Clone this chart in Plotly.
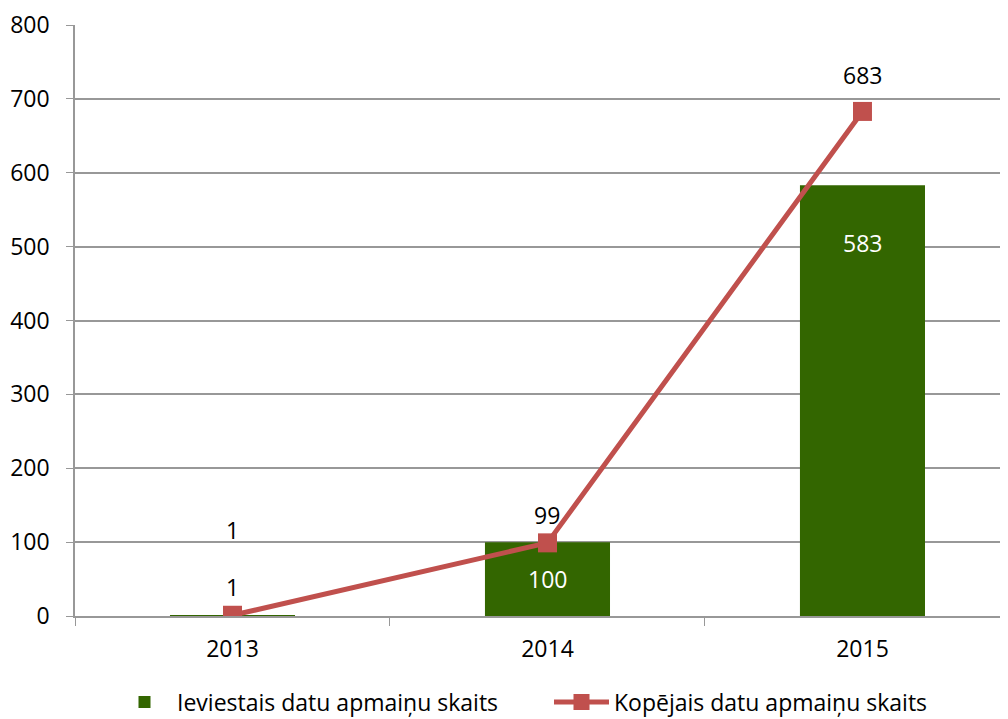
import plotly.graph_objects as go

# data
years = ["2013", "2014", "2015"]
ieviestais = [1, 100, 583]
kopejais = [1, 99, 683]
y_ticks = [0, 100, 200, 300, 400, 500, 600, 700, 800]

bar_name = "Ieviestais datu apmaiņu skaits"
line_name = "Kopējais datu apmaiņu skaits"

FONT = "Open Sans"
FS = 23
GREEN = "#336600"
RED = "#C0504D"
GRID = "#989898"

# the page body has an 8px margin, so the figure is a bit smaller than the window
W, H = 1000, 711

fig = go.Figure()

fig.add_trace(go.Bar(
    x=years, y=ieviestais, name=bar_name,
    marker=dict(color=GREEN, line=dict(width=0)),
    width=0.397,
))

fig.add_trace(go.Scatter(
    x=years, y=kopejais, name=line_name, mode="lines+markers",
    line=dict(color=RED, width=5),
    marker=dict(symbol="square", size=19, color=RED),
))

# data labels (category axis -> annotation x is the category index)
annotations = []
for i, v in enumerate(ieviestais):
    if v < 20:
        # tiny bar: label sits above it
        y, col, shift = v, "black", 85
    else:
        y, col, shift = max(v - 78, v / 2), "white", 0
    annotations.append(dict(x=i, y=y, text=str(v), showarrow=False,
                            font=dict(family=FONT, size=FS, color=col),
                            yshift=shift))
for i, v in enumerate(kopejais):
    annotations.append(dict(x=i, y=v, text=str(v), showarrow=False,
                            font=dict(family=FONT, size=FS, color="black"),
                            yshift=28 if v < 500 else 36))

fig.update_layout(
    width=W, height=H,
    margin=dict(l=67, r=0, t=17, b=103),
    paper_bgcolor="white", plot_bgcolor="white",
    font=dict(family=FONT, size=FS, color="black"),
    barmode="overlay",
    annotations=annotations,
    showlegend=True,
    legend=dict(orientation="h", xref="container", yref="container",
                x=0.104, xanchor="left", y=17 / H, yanchor="middle",
                font=dict(family=FONT, size=FS), traceorder="normal",
                itemwidth=55, entrywidth=367, bgcolor="rgba(0,0,0,0)"),
    xaxis=dict(
        type="category", range=[-0.5, 2.462], automargin=False,
        showline=True, linecolor=GRID, linewidth=1.5,
        ticks="outside", tickson="boundaries", ticklen=8, tickcolor=GRID,
        ticklabelstandoff=12, showgrid=False, zeroline=False,
        tickfont=dict(family=FONT, size=FS),
    ),
    yaxis=dict(
        range=[0, 800], tickvals=y_ticks, automargin=False,
        showline=True, linecolor=GRID, linewidth=1.5,
        ticks="outside", ticklen=7, tickcolor=GRID,
        ticklabelstandoff=12,
        showgrid=True, gridcolor=GRID, gridwidth=1.5, zeroline=False,
        tickfont=dict(family=FONT, size=FS),
    ),
)

fig.write_html("out.html")
